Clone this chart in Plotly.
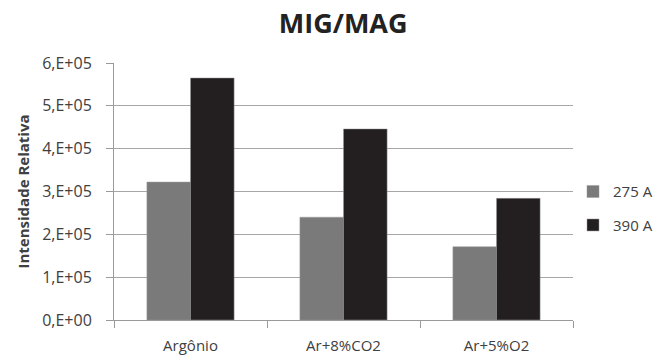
import plotly.graph_objects as go

categories = ["Argônio", "Ar+8%CO2", "Ar+5%O2"]
serie_275 = [3.22e5, 2.40e5, 1.71e5]
serie_390 = [5.65e5, 4.46e5, 2.84e5]
tick_vals = [0, 1e5, 2e5, 3e5, 4e5, 5e5, 6e5]
tick_text = ["0,E+00", "1,E+05", "2,E+05", "3,E+05", "4,E+05", "5,E+05", "6,E+05"]

fig = go.Figure()
fig.add_trace(go.Bar(x=categories, y=serie_275, name="275 A", marker_color="#7a7a7a",
                     legendgroup="a", marker_line=dict(color="#9a9a9a", width=0.5)))
fig.add_trace(go.Bar(x=categories, y=serie_390, name="390 A", marker_color="#231f20",
                     legendgroup="b", marker_line=dict(color="#9a9a9a", width=0.5)))

fig.update_layout(
    width=669, height=361,
    margin=dict(l=114, r=96, t=63, b=41, autoexpand=False),
    paper_bgcolor="white", plot_bgcolor="white",
    barmode="group", bargap=0.43, bargroupgap=0,
    font=dict(family="Open Sans", color="#404040", size=15),
    title=dict(text="<b>MIG/MAG</b>", x=0.513, xanchor="center", y=0.935, yanchor="middle",
               font=dict(size=27, color="#222222", family="Open Sans")),
    legend=dict(x=1.0, y=0.435, xanchor="left", yanchor="middle",
                font=dict(size=15, color="#404040"), tracegroupgap=11,
                traceorder="grouped", itemwidth=30),
    showlegend=True,
)
fig.update_xaxes(
    showline=True, linecolor="#9a9a9a", linewidth=1,
    ticks="outside", tickson="boundaries", ticklen=7, tickcolor="#9a9a9a",
    tickfont=dict(size=15, color="#404040"), showgrid=False,
    ticklabelstandoff=12,
)
fig.update_yaxes(
    range=[0, 6e5], tickvals=tick_vals, ticktext=tick_text,
    showline=True, linecolor="#9a9a9a", linewidth=1,
    ticks="outside", ticklen=7, tickcolor="#9a9a9a",
    showgrid=True, gridcolor="#a6a6a6", gridwidth=1,
    tickfont=dict(size=16, color="#404040"),
    ticklabelstandoff=11,
    title=dict(text="<b>Intensidade Relativa</b>", font=dict(size=15, color="#404040"), standoff=8),
    zeroline=False,
)
fig.write_html("out.html")
